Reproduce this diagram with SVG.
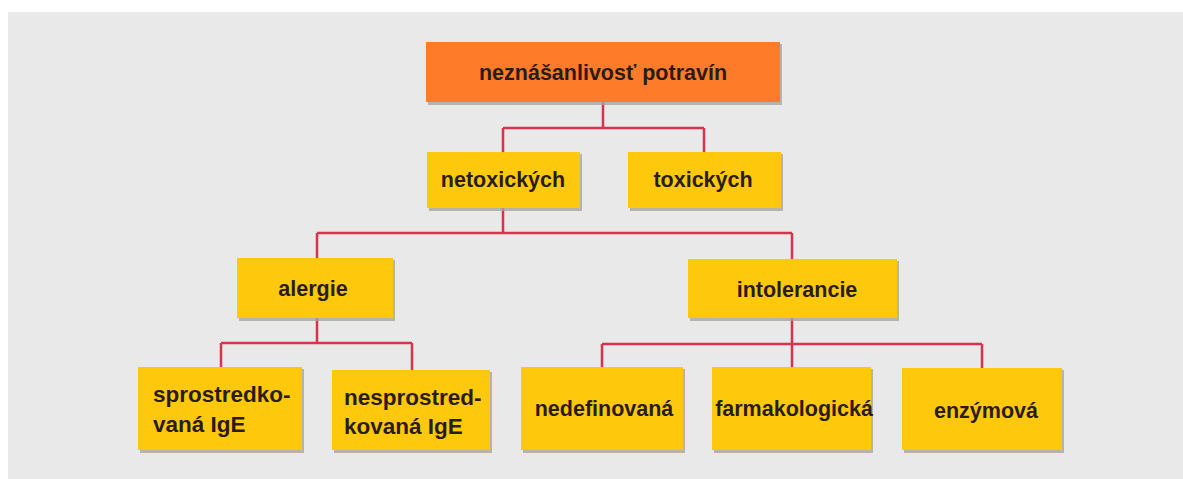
<svg xmlns="http://www.w3.org/2000/svg" width="1183" height="479" viewBox="0 0 1183 479">
<defs>
<style>
.bg{fill:#e9e9e9}
.sh{fill:#a9a49c;opacity:0.8}
.org{fill:#fe7b29}
.yel{fill:#fec90c}
.t{font-family:"Liberation Sans",Arial,sans-serif;font-weight:bold;font-size:21.5px;fill:#2a1c10;text-anchor:middle}
.tl{font-family:"Liberation Sans",Arial,sans-serif;font-weight:bold;font-size:22.5px;fill:#2a1c10}
.c{fill:none;stroke:#d8324c;stroke-width:2.5}
</style>
</defs>
<rect x="0" y="0" width="1183" height="479" fill="#ffffff"/>
<rect class="bg" x="8" y="12" width="1175" height="467"/>
<g id="connectors">
<path class="c" d="M603 102V128M503 128H704M503 128V152M704 128V152"/>
<path class="c" d="M503 208V233M317 233H792M317 233V258M792 233V259"/>
<path class="c" d="M317 318V343M221 343H412M221 343V367M412 343V370"/>
<path class="c" d="M792 318V344M602 344H982M602 344V367M792 344V367M982 344V368"/>
</g>
<g id="n-root">
<rect class="sh" x="428" y="44" width="354" height="61"/>
<rect class="org" x="426" y="42" width="354" height="60"/>
<text class="t" x="603" y="80" font-size="22">neznášanlivosť potravín</text>
</g>
<g id="n-netox">
<rect class="sh" x="429" y="154" width="153" height="57"/>
<rect class="yel" x="427" y="152" width="153" height="56"/>
<text class="t" x="503" y="187">netoxických</text>
</g>
<g id="n-tox">
<rect class="sh" x="630" y="154" width="153" height="57"/>
<rect class="yel" x="628" y="152" width="153" height="56"/>
<text class="t" x="703" y="187">toxických</text>
</g>
<g id="n-alergie">
<rect class="sh" x="239" y="260" width="156" height="61"/>
<rect class="yel" x="237" y="258" width="156" height="60"/>
<text class="t" x="313" y="296">alergie</text>
</g>
<g id="n-intol">
<rect class="sh" x="690" y="261" width="209" height="60"/>
<rect class="yel" x="688" y="259" width="209" height="59"/>
<text class="t" x="797" y="297">intolerancie</text>
</g>
<g id="n-sprost">
<rect class="sh" x="140" y="369" width="164" height="84"/>
<rect class="yel" x="138" y="367" width="164" height="83"/>
<text class="tl" x="153" y="402">sprostredko-</text>
<text class="tl" x="153" y="432">vaná IgE</text>
</g>
<g id="n-nesprost">
<rect class="sh" x="334" y="372" width="158" height="81"/>
<rect class="yel" x="332" y="370" width="158" height="80"/>
<text class="tl" x="344" y="405">nesprostred-</text>
<text class="tl" x="344" y="434">kovaná IgE</text>
</g>
<g id="n-nedef">
<rect class="sh" x="523" y="369" width="162" height="84"/>
<rect class="yel" x="521" y="367" width="162" height="83"/>
<text class="t" x="604" y="416">nedefinovaná</text>
</g>
<g id="n-farma">
<rect class="sh" x="714" y="369" width="159" height="84"/>
<rect class="yel" x="712" y="367" width="159" height="83"/>
<text class="t" x="794" y="416">farmakologická</text>
</g>
<g id="n-enzym">
<rect class="sh" x="904" y="370" width="160" height="83"/>
<rect class="yel" x="902" y="368" width="160" height="82"/>
<text class="t" x="986" y="418">enzýmová</text>
</g>
</svg>
